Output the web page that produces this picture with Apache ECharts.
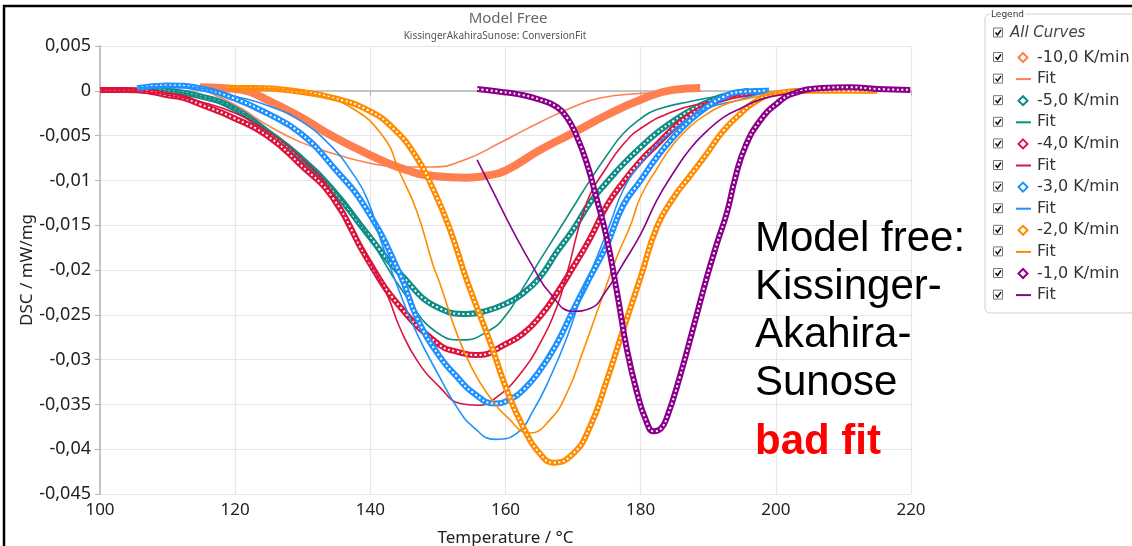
<!DOCTYPE html>
<html>
<head>
<meta charset="utf-8">
<script src="https://cdn.jsdelivr.net/npm/echarts@6/dist/echarts.min.js"></script>
<style>
  html, body { margin: 0; padding: 0; background: #fff; }
  #chart { width: 1132px; height: 546px; }
</style>
</head>
<body>
<div id="chart"></div>
<script>
// Heating rates and their colours
const rateLabels = ['-10,0 K/min', '-5,0 K/min', '-4,0 K/min', '-3,0 K/min', '-2,0 K/min', '-1,0 K/min'];
const rateColors = ['#FF7F50', '#0E8C86', '#DC143C', '#1E90FF', '#FF8C00', '#8B008B'];

// Axis ticks
const xTicks = [100, 120, 140, 160, 180, 200, 220];
const yTicks = [0.005, 0, -0.005, -0.01, -0.015, -0.02, -0.025, -0.03, -0.035, -0.04, -0.045];

// -10 K/min: measured DSC (°C, mW/mg) and fit
const tempR10 = [114.8, 118, 121, 124.7, 129.6, 134.5, 139.5, 144.4, 149.3, 154.3, 157, 160, 165.1, 170, 175, 180, 184.8, 188.8];
const dscR10 = [0.0004, 0.0003, 0.0001, -0.001, -0.0029, -0.0051, -0.007, -0.0086, -0.0095, -0.0097, -0.0095, -0.0089, -0.0066, -0.0047, -0.0027, -0.001, 0.0001, 0.0003];
const tempR10Fit = [114.8, 118, 121, 124.7, 129.6, 134.5, 139.5, 144.4, 149.3, 154.3, 159.2, 162, 165.1, 170, 174, 180, 189];
const dscR10Fit = [0.0002, -0.0008, -0.002, -0.0038, -0.0057, -0.007, -0.008, -0.0085, -0.0085, -0.0076, -0.0058, -0.0047, -0.0035, -0.0018, -0.0008, -0.0003, 0];

// -5 K/min
const tempR5 = [106, 110, 114.8, 119.7, 124.7, 129.6, 134.5, 139.5, 144.4, 150.3, 154.3, 157.4, 160.2, 162.6, 165.1, 167.6, 170, 172.5, 175, 177.4, 180, 182.4, 184.8, 187.3, 189.8, 192.2, 196];
const dscR5 = [0.0002, 0, -0.0006, -0.0019, -0.0045, -0.0074, -0.0111, -0.0159, -0.0204, -0.0243, -0.0249, -0.0245, -0.0237, -0.0226, -0.0208, -0.018, -0.0155, -0.0125, -0.0102, -0.0082, -0.0063, -0.0047, -0.0034, -0.0022, -0.0013, -0.0006, 0];
const tempR5Fit = [106, 110, 114.8, 119.7, 124.7, 129.6, 134.5, 139.5, 145, 150.3, 153.5, 157.7, 160.2, 162.6, 165.1, 167.6, 170, 172.5, 175, 177.4, 180, 182.4, 187.3, 192.2, 197];
const dscR5Fit = [0.0002, 0, -0.0006, -0.0019, -0.0044, -0.0073, -0.011, -0.016, -0.0226, -0.0272, -0.0278, -0.0267, -0.0249, -0.022, -0.0189, -0.0159, -0.013, -0.01, -0.0072, -0.0048, -0.0031, -0.0021, -0.0012, -0.0005, 0];

// -4 K/min
const tempR4 = [100, 104, 107.4, 110, 112.3, 114.8, 119.7, 124.7, 129.6, 134.5, 139.5, 144.4, 150.3, 152.8, 155.8, 160.2, 162.6, 165.1, 167.6, 170, 172.5, 175, 177.4, 180, 182.4, 184.8, 187.3, 189.8, 192.2, 196, 199];
const dscR4 = [0.0001, 0.0001, -0.0001, -0.0005, -0.0008, -0.0015, -0.003, -0.005, -0.0082, -0.012, -0.0187, -0.0241, -0.0284, -0.0291, -0.0295, -0.0282, -0.0271, -0.0252, -0.0226, -0.0197, -0.0165, -0.0128, -0.0102, -0.0078, -0.006, -0.0042, -0.0027, -0.0017, -0.0009, -0.0003, 0];
const tempR4Fit = [100, 104, 108, 111, 114.8, 119.7, 124.7, 129.6, 134.5, 139.5, 142.5, 144.4, 147, 150.3, 153.3, 155.8, 158.7, 162.6, 165.1, 167.6, 169.1, 172, 175, 177.4, 180, 184.8, 189.8, 195];
const dscR4Fit = [0.0001, 0.0001, -0.0002, -0.0006, -0.0012, -0.0024, -0.0045, -0.0074, -0.0115, -0.0185, -0.0228, -0.0265, -0.0302, -0.0331, -0.0349, -0.0351, -0.0342, -0.0312, -0.0282, -0.0241, -0.0204, -0.0125, -0.0085, -0.006, -0.0042, -0.0023, -0.0013, -0.0004];

// -3 K/min
const tempR3 = [105.5, 109.9, 114.8, 119.7, 124.7, 129.6, 134.5, 139.5, 144.4, 147, 150.3, 152.8, 155.2, 158.5, 160.5, 162.6, 165.1, 167.6, 170, 172.5, 175, 177.4, 180, 182.4, 184.8, 187.3, 189.8, 192.2, 195, 199];
const dscR3 = [0.0003, 0.0006, 0.0003, -0.0008, -0.0025, -0.0047, -0.0085, -0.0133, -0.0205, -0.0255, -0.0297, -0.0319, -0.0337, -0.0349, -0.0345, -0.0334, -0.0312, -0.0282, -0.0245, -0.0208, -0.0172, -0.0128, -0.01, -0.0074, -0.0052, -0.0033, -0.0018, -0.0007, -0.0001, 0];
const tempR3Fit = [105.5, 110, 115, 120, 125, 129.6, 134.5, 137, 139.5, 141.9, 144.4, 146.9, 150.3, 152.8, 155.2, 158.5, 161.7, 164.1, 166.6, 169.1, 171.5, 173.5, 175.5, 177.4, 180, 184.8, 189.8, 194.7, 199];
const dscR3Fit = [0.0003, 0.0005, 0.0003, -0.0006, -0.0017, -0.0033, -0.0064, -0.0088, -0.012, -0.0175, -0.0226, -0.0271, -0.032, -0.0353, -0.0375, -0.0389, -0.0382, -0.0357, -0.032, -0.0275, -0.0223, -0.0186, -0.0148, -0.0111, -0.0081, -0.0044, -0.002, -0.001, 0];

// -2 K/min
const tempR2 = [118.8, 123, 129.6, 134.5, 139.5, 143.4, 146.9, 149.3, 151.8, 154.3, 157.7, 160.2, 162.6, 165.1, 167.1, 170, 172.5, 175, 177.4, 180, 182.4, 184.8, 187.3, 189.8, 192.2, 194.7, 197, 200, 205, 210, 215];
const dscR2 = [0.0003, 0.0003, -0.0001, -0.0008, -0.0021, -0.0042, -0.0075, -0.011, -0.0155, -0.0212, -0.028, -0.0334, -0.0375, -0.0405, -0.0415, -0.0405, -0.0375, -0.0323, -0.0267, -0.0208, -0.0152, -0.012, -0.0095, -0.007, -0.0045, -0.0026, -0.0012, -0.0003, 0, 0, 0];
const tempR2Fit = [118.8, 123, 128, 132.1, 137, 141.9, 144.4, 146.9, 149.3, 150.3, 152.8, 155.2, 157.7, 160.2, 163.6, 166.6, 169.1, 171.5, 174, 176.5, 178.5, 180, 182.4, 184.8, 187.3, 189.8, 192.2, 195, 200, 205];
const dscR2Fit = [0.0003, 0.0003, 0.0001, -0.0005, -0.0018, -0.0051, -0.0092, -0.0135, -0.0195, -0.0215, -0.0271, -0.0312, -0.0342, -0.0364, -0.0382, -0.0367, -0.0337, -0.029, -0.0237, -0.0185, -0.015, -0.0118, -0.0087, -0.006, -0.004, -0.0026, -0.0016, -0.001, -0.0003, 0];

// -1 K/min
const tempR1 = [155.8, 159.2, 162, 165.1, 167.6, 169.1, 170.5, 172, 173.4, 175, 176.5, 178, 179.5, 180.8, 181.9, 183, 184, 185.8, 187.8, 189.8, 191.3, 192.8, 194, 195.5, 197.7, 200.2, 202.6, 206.7, 211, 215, 219.9];
const dscR1 = [0.0002, -0.0001, -0.0004, -0.001, -0.0018, -0.003, -0.005, -0.008, -0.0118, -0.0165, -0.0225, -0.029, -0.0338, -0.0368, -0.038, -0.0377, -0.0362, -0.0319, -0.0264, -0.0208, -0.017, -0.0135, -0.0097, -0.0062, -0.0033, -0.0014, -0.0003, 0.0003, 0.0004, 0.0002, 0.0001];
const tempR1Fit = [155.8, 158, 161, 164.1, 166.6, 170, 172.5, 175, 177.4, 180, 182.4, 184.8, 187.3, 189.8, 192.2, 194.7, 198, 202, 205];
const dscR1Fit = [-0.0077, -0.011, -0.0155, -0.0197, -0.0226, -0.0246, -0.0243, -0.0222, -0.0193, -0.016, -0.0122, -0.0092, -0.0065, -0.0045, -0.003, -0.002, -0.0009, -0.0003, 0];

const measured = [[tempR10, dscR10], [tempR5, dscR5], [tempR4, dscR4], [tempR3, dscR3], [tempR2, dscR2], [tempR1, dscR1]];
const fitted = [[tempR10Fit, dscR10Fit], [tempR5Fit, dscR5Fit], [tempR4Fit, dscR4Fit], [tempR3Fit, dscR3Fit], [tempR2Fit, dscR2Fit], [tempR1Fit, dscR1Fit]];

const noteLines = ['Model free:', 'Kissinger-', 'Akahira-', 'Sunose'];
const noteVerdict = 'bad fit';

function pairs(t, v) { return t.map((x, i) => [x, v[i]]); }

const AXIS_FONT = "'Noto Sans', 'Open Sans', sans-serif";
const LEGEND_FONT = "'DejaVu Sans', Verdana, sans-serif";
const SMOOTH = 0.5;

// One thick line per measured curve (dotted white core for the marker chains), one thin line per fit
const series = [];
rateLabels.forEach((label, i) => {
  const color = rateColors[i];
  const pts = pairs(measured[i][0], measured[i][1]);
  series.push({
    name: label, type: 'line', data: pts, smooth: SMOOTH,
    showSymbol: false, lineStyle: { color: color, width: i === 0 ? 8 : 6 }, z: 2 + i * 3
  });
  if (i > 0) {
    series.push({
      name: label + ' markers', type: 'line', data: pts, smooth: SMOOTH,
      showSymbol: false, silent: true,
      lineStyle: { color: '#ffffff', width: 2, type: [2, 2.6] }, z: 3 + i * 3
    });
  }
  series.push({
    name: 'Fit ' + label, type: 'line', data: pairs(fitted[i][0], fitted[i][1]), smooth: SMOOTH,
    showSymbol: false, lineStyle: { color: color, width: 1.6 }, z: 4 + i * 3
  });
});

// Frame, titles, legend panel with check boxes, annotation
const graphics = [];
graphics.push({ type: 'line', shape: { x1: 4, y1: 5, x2: 4, y2: 546 }, style: { stroke: '#000', lineWidth: 2.5 }, z: 100 });
graphics.push({ type: 'line', shape: { x1: 3, y1: 6, x2: 1132, y2: 6 }, style: { stroke: '#000', lineWidth: 2.5 }, z: 100 });
graphics.push({ type: 'text', x: 508, y: 18.5, style: { text: 'Model Free', font: "15px " + AXIS_FONT, fill: '#666', align: 'center', verticalAlign: 'middle' } });
graphics.push({ type: 'text', x: 495, y: 36.5, style: { text: 'KissingerAkahiraSunose: ConversionFit', font: "10px " + AXIS_FONT, fill: '#555', align: 'center', verticalAlign: 'middle' } });

graphics.push({ type: 'rect', shape: { x: 985, y: 14, width: 160, height: 299, r: 5 }, style: { fill: 'none', stroke: '#cfcfcf', lineWidth: 1 } });
graphics.push({ type: 'text', x: 990, y: 14.5, style: { text: 'Legend', font: "9px " + LEGEND_FONT, fill: '#333', verticalAlign: 'middle', backgroundColor: '#fff', padding: [0, 1] } });

function checkbox(cy) {
  graphics.push({ type: 'rect', shape: { x: 993.5, y: cy - 5, width: 9, height: 9 }, style: { fill: '#fff', stroke: '#777', lineWidth: 1 } });
  graphics.push({ type: 'polyline', shape: { points: [[995.5, cy - 0.5], [997.5, cy + 2], [1001, cy - 3]] }, style: { stroke: '#111', lineWidth: 1.5, fill: 'none' } });
}
checkbox(33);
graphics.push({ type: 'text', x: 1010, y: 33, style: { text: 'All Curves', font: "italic 15px " + LEGEND_FONT, fill: '#444', verticalAlign: 'middle' } });

rateLabels.forEach((label, i) => {
  const color = rateColors[i];
  const cyData = 57.5 + i * 2 * 21.6;
  const cyFit = cyData + 21.6;
  checkbox(cyData);
  graphics.push({ type: 'polygon', shape: { points: [[1023, cyData - 4.5], [1027.5, cyData], [1023, cyData + 4.5], [1018.5, cyData]] }, style: { fill: '#fff', stroke: color, lineWidth: 2 } });
  graphics.push({ type: 'text', x: 1037, y: cyData, style: { text: label, font: "16px " + LEGEND_FONT, fill: '#333', verticalAlign: 'middle' } });
  checkbox(cyFit);
  graphics.push({ type: 'line', shape: { x1: 1016, y1: cyFit, x2: 1031, y2: cyFit }, style: { stroke: color, lineWidth: 2 } });
  graphics.push({ type: 'text', x: 1037, y: cyFit, style: { text: 'Fit', font: "16px " + LEGEND_FONT, fill: '#333', verticalAlign: 'middle' } });
});

noteLines.forEach((line, i) => {
  graphics.push({ type: 'text', x: 755, y: 239 + i * 48.3, style: { text: line, font: "42px 'Liberation Sans', Arial, sans-serif", fill: '#000', verticalAlign: 'middle' }, z: 50 });
});
graphics.push({ type: 'text', x: 755, y: 442, style: { text: noteVerdict, font: "bold 42px 'Liberation Sans', Arial, sans-serif", fill: '#FF0000', verticalAlign: 'middle' }, z: 50 });

function fmtY(v) {
  const s = (+v.toFixed(3)).toString();
  return s.replace('.', ',');
}

const chart = echarts.init(document.getElementById('chart'), null, { renderer: 'canvas' });
chart.setOption({
  animation: false,
  backgroundColor: '#fff',
  grid: { left: 100, top: 46, width: 811, height: 448, containLabel: false, outerBoundsMode: 'none' },
  xAxis: {
    type: 'value', min: xTicks[0], max: xTicks[xTicks.length - 1], interval: xTicks[1] - xTicks[0],
    name: 'Temperature / °C', nameLocation: 'middle', nameGap: 36, nameMoveOverlap: false,
    nameTextStyle: { fontFamily: AXIS_FONT, fontSize: 17, color: '#222' },
    axisLine: { lineStyle: { color: '#b5b5b5', width: 1.5 } },
    axisTick: { show: true, length: 5, lineStyle: { color: '#b5b5b5' } },
    axisLabel: { fontFamily: AXIS_FONT, fontSize: 17, color: '#222', margin: 8, showMinLabel: true, showMaxLabel: true },
    splitLine: { show: true, lineStyle: { color: '#e6e6e6', width: 1.2 } }
  },
  yAxis: {
    type: 'value', min: yTicks[yTicks.length - 1], max: yTicks[0], interval: yTicks[0] - yTicks[1],
    name: 'DSC / mW/mg', nameLocation: 'middle', nameGap: 64, nameMoveOverlap: false,
    nameTextStyle: { fontFamily: AXIS_FONT, fontSize: 17, color: '#222' },
    axisLine: { show: true, lineStyle: { color: '#b5b5b5', width: 1.5 } },
    axisTick: { show: true, length: 5, lineStyle: { color: '#b5b5b5' } },
    axisLabel: { fontFamily: AXIS_FONT, fontSize: 18, color: '#222', margin: 9, formatter: fmtY, showMinLabel: true, showMaxLabel: true },
    splitLine: { show: true, lineStyle: { color: '#e6e6e6', width: 1.2 } }
  },
  series: series,
  graphic: graphics
});
</script>
</body>
</html>
